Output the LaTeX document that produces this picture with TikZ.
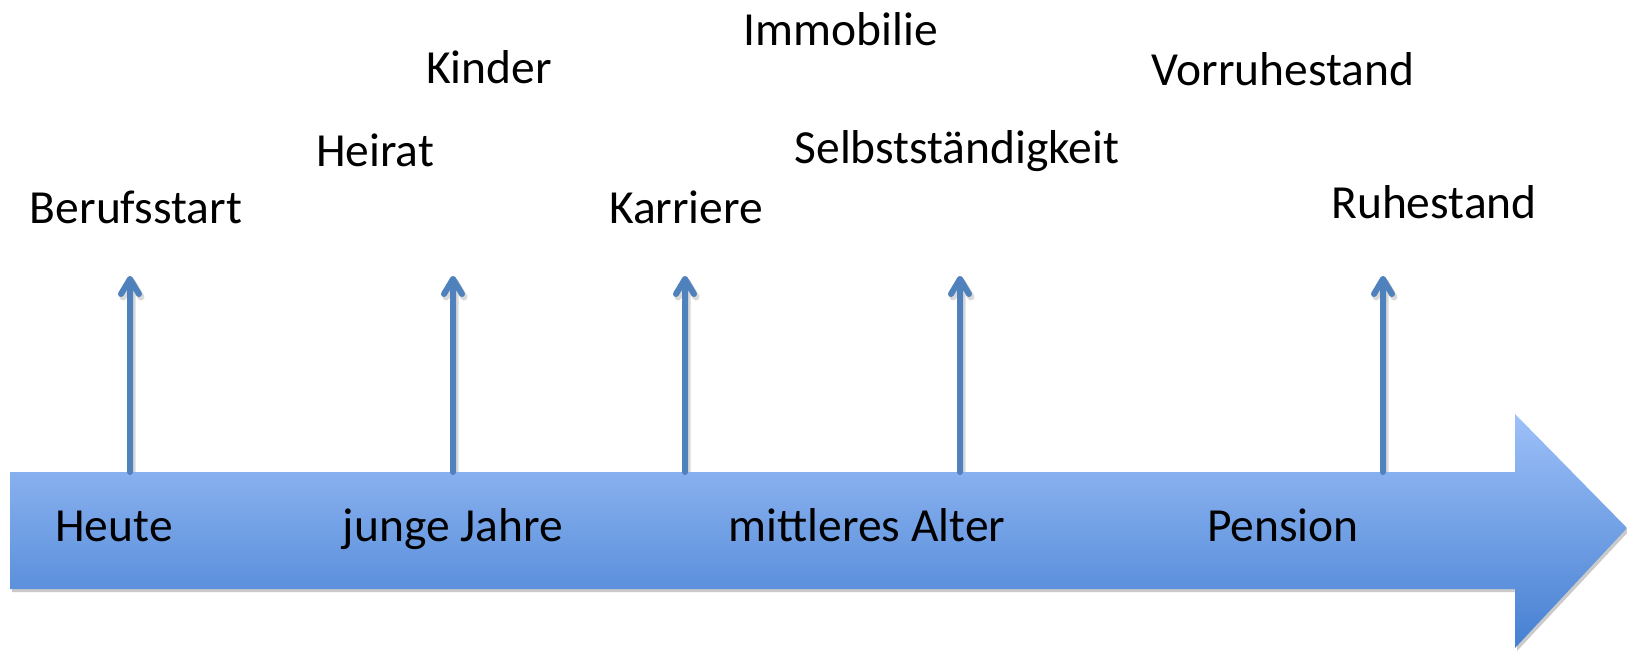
\documentclass[tikz,border=0pt]{standalone}
\usepackage{fontspec}
\setmainfont{Carlito}
\usetikzlibrary{shadows}
\definecolor{armtop}{HTML}{9DC0F8}
\definecolor{armbot}{HTML}{4680D2}
\definecolor{stem}{HTML}{4F81BD}
\tikzset{
  lbl/.style={anchor=base,inner sep=0pt,font=\fontsize{47.5}{57}\selectfont},
  stemline/.style={draw=stem,line width=6pt,line cap=round,line join=round},
  stemshadow/.style={draw=black,opacity=0.15,line width=7pt,line cap=round,line join=round},
  bigarrow/.style={top color=armtop,bottom color=armbot,draw=none,
    drop shadow={opacity=0.35,shadow xshift=2pt,shadow yshift=-3pt,fill=black!60}}
}
\begin{document}
\begin{tikzpicture}[x=1pt,y=-1pt]
\useasboundingbox (0,0) rectangle (1627,651);
% stems shadows (behind)
\foreach \n/\x in {a/130,b/453,c/685,d/960,e/1383}{
  \coordinate (\n0) at (\x,472);
  \coordinate (\n1) at (\x,279);
  \coordinate (\n2) at (\x+2,474);
  \coordinate (\n3) at (\x+2,282);
}
\foreach \n in {a,b,c,d,e}{
  \draw[stemshadow] (\n2) -- (\n3) ++(-9,15) -- (\n3) -- ++(9,15);
}
% big arrow
\path[bigarrow] (10,472) -- (1515,472) -- (1515,414) -- (1627,528) -- (1515,648) -- (1515,589) -- (10,589) -- cycle;
% labels inside
\node[lbl] (heute) at (114,541) {Heute};
\node[lbl] (jung) at (453,541) {junge Jahre};
\node[lbl] (mittel) at (867,541) {mittleres Alter};
\node[lbl] (pension) at (1283,541) {Pension};
% event labels
\node[lbl] (beruf) at (136,223) {Berufsstart};
\node[lbl] (heirat) at (375,166) {Heirat};
\node[lbl] (kinder) at (489,83) {Kinder};
\node[lbl] (immo) at (841,45) {Immobilie};
\node[lbl] (karriere) at (686,223) {Karriere};
\node[lbl] (selbst) at (957,163) {Selbstständigkeit};
\node[lbl] (vorruhe) at (1283,85) {Vorruhestand};
\node[lbl] (ruhe) at (1434,218) {Ruhestand};
% stems
\foreach \n in {a,b,c,d,e}{
  \draw[stemline] (\n0) -- (\n1) ++(-9,15) -- (\n1) -- ++(9,15);
}
\end{tikzpicture}
\end{document}
